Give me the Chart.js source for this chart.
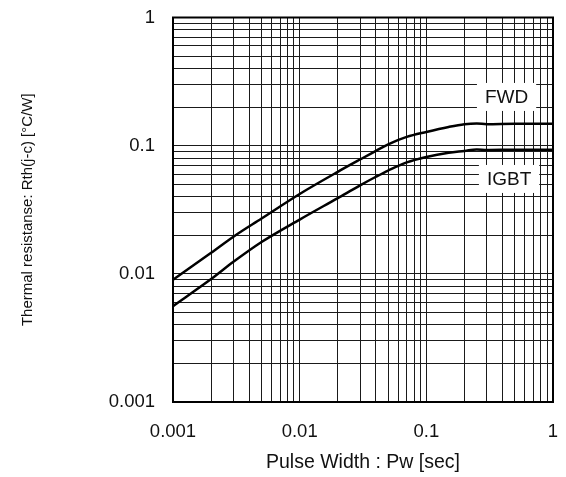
<!DOCTYPE html>
<html>
<head>
<meta charset="utf-8">
<script src="https://cdn.jsdelivr.net/npm/chart.js@4.4.0/dist/chart.umd.min.js"></script>
<style>
  body { margin: 0; background: #fff; }
  canvas { display: block; }
</style>
</head>
<body>
<canvas id="rthchart" width="566" height="477"></canvas>
<script>
// Dados do grafico
const pulseWidth = [0.001, 0.002, 0.003, 0.005, 0.01, 0.02, 0.03, 0.04, 0.05, 0.07, 0.1, 0.15, 0.2, 0.25, 0.3, 0.5, 1];
const rthFWD  = [0.0090, 0.0146, 0.0195, 0.0270, 0.0420, 0.0625, 0.078, 0.091, 0.1025, 0.117, 0.128, 0.140, 0.147, 0.149, 0.147, 0.148, 0.148];
const rthIGBT = [0.0056, 0.0091, 0.0124, 0.0177, 0.0265, 0.039, 0.049, 0.0572, 0.064, 0.074, 0.0815, 0.088, 0.091, 0.0935, 0.0925, 0.093, 0.093];
const seriesNames = ["FWD", "IGBT"];
const decadeTicks = [0.001, 0.01, 0.1, 1];

// Onde ficam os rotulos das curvas (em valores do grafico)
const curveLabels = [
  { text: "FWD",  x: 0.43, y: 0.24 },
  { text: "IGBT", x: 0.45, y: 0.055 }
];

const fontName = "'Liberation Sans', Arial, sans-serif";

function toPoints(ys) {
  return pulseWidth.map((x, i) => ({ x: x, y: ys[i] }));
}

// Grade 1..9 em cada decada
function decadeGrid(scale) {
  const t = [];
  decadeTicks.forEach((d, i) => {
    if (i == decadeTicks.length - 1) { t.push({ value: d }); return; }
    for (let k = 1; k < 10; k++) t.push({ value: d * k });
  });
  scale.ticks = t;
}

function decadeLabel(v) {
  for (let d of decadeTicks) {
    if (Math.abs(v - d) / d < 1e-6) return String(d);
  }
  return '';
}

// Moldura do grafico
const framePlugin = {
  id: 'frame',
  afterDatasetsDraw(chart) {
    const a = chart.chartArea, ctx = chart.ctx;
    ctx.save();
    ctx.strokeStyle = '#000';
    ctx.lineWidth = 2;
    ctx.strokeRect(a.left, a.top, a.right - a.left, a.bottom - a.top);
    ctx.restore();
  }
};

// Rotulos FWD / IGBT com fundo branco
const labelPlugin = {
  id: 'curveLabels',
  beforeDatasetsDraw(chart) {
    const ctx = chart.ctx;
    const sx = chart.scales.x, sy = chart.scales.y;
    ctx.save();
    ctx.font = "19px " + fontName;
    ctx.textAlign = 'center';
    ctx.textBaseline = 'middle';
    curveLabels.forEach(l => {
      const px = sx.getPixelForValue(l.x);
      const py = sy.getPixelForValue(l.y);
      const w = ctx.measureText(l.text).width + 16;
      const h = 28;
      ctx.fillStyle = '#fff';
      ctx.fillRect(px - w / 2, py - h / 2, w, h);
      ctx.fillStyle = '#111';
      ctx.fillText(l.text, px, py + 1);
    });
    ctx.restore();
  }
};

const lineStyle = {
  showLine: true,
  borderColor: '#000',
  borderWidth: 2.5,
  pointRadius: 0,
  fill: false,
  cubicInterpolationMode: 'monotone'
};

const MyChart = new Chart("rthchart", {
  type: 'scatter',
  data: {
    datasets: [
      Object.assign({ label: seriesNames[0], data: toPoints(rthFWD) }, lineStyle),
      Object.assign({ label: seriesNames[1], data: toPoints(rthIGBT) }, lineStyle)
    ]
  },
  options: {
    responsive: false,
    animation: false,
    layout: { padding: { top: 17.5, right: 13, left: 0, bottom: 0 } },
    plugins: {
      legend: { display: false },
      tooltip: { enabled: false }
    },
    scales: {
      x: {
        type: 'logarithmic',
        min: 0.001,
        max: 1,
        afterBuildTicks: decadeGrid,
        afterFit(s) { s.height = 75; s.paddingLeft = 0; s.paddingRight = 0; },
        border: { display: false },
        grid: { color: '#1a1a1a', lineWidth: 1, drawTicks: false },
        ticks: {
          autoSkip: false,
          maxRotation: 0,
          padding: 19,
          color: '#111',
          font: { family: fontName, size: 18.5 },
          callback: decadeLabel
        },
        title: {
          display: true,
          text: 'Pulse Width : Pw [sec]',
          color: '#111',
          font: { family: fontName, size: 19.5 },
          padding: { top: 0, bottom: 3 }
        }
      },
      y: {
        type: 'logarithmic',
        min: 0.001,
        max: 1,
        afterBuildTicks: decadeGrid,
        afterFit(s) { s.width = 173; s.paddingTop = 0; s.paddingBottom = 0; },
        border: { display: false },
        grid: { color: '#1a1a1a', lineWidth: 1, drawTicks: false },
        ticks: {
          autoSkip: false,
          padding: 18,
          color: '#111',
          font: { family: fontName, size: 18.5 },
          callback: decadeLabel
        },
        title: {
          display: true,
          text: 'Thermal resistanse: Rth(j-c) [°C/W]',
          color: '#111',
          font: { family: fontName, size: 15 },
          padding: { top: 19, bottom: 0 }
        }
      }
    }
  },
  plugins: [labelPlugin, framePlugin]
});
</script>
</body>
</html>
